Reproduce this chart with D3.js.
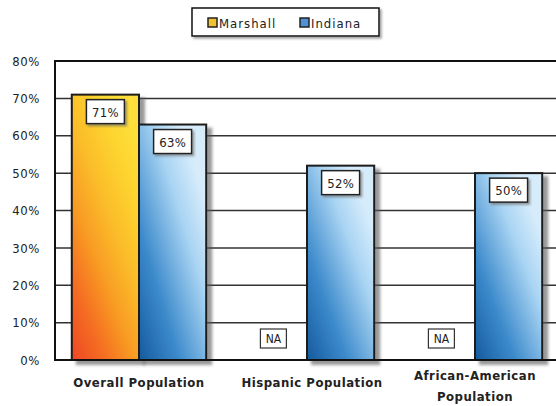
<!DOCTYPE html>
<html>
<head>
<meta charset="utf-8">
<script src="https://cdn.jsdelivr.net/npm/d3@7"></script>
<style>
  html, body { margin: 0; padding: 0; background: #fff; }
  svg { display: block; }
  text { font-family: "DejaVu Sans Condensed", "Liberation Sans Narrow", "DejaVu Sans", sans-serif; fill: #222; }
</style>
</head>
<body>
<svg id="chart" width="556" height="406"></svg>
<script>
// Share of population, by group, for Marshall County and Indiana
const categories = ["Overall Population", "Hispanic Population", "African-American Population"];
const categoryLines = [["Overall Population"], ["Hispanic Population"], ["African-American", "Population"]];
const seriesNames = ["Marshall", "Indiana"];
const marshallValues = [71, null, null];   // null = not available
const indianaValues = [63, 52, 50];
const yTickValues = [0, 10, 20, 30, 40, 50, 60, 70, 80];
const naLabel = "NA";

const svg = d3.select("#chart");
const plot = { left: 55, right: 559, top: 61, bottom: 360 };

const x0 = d3.scaleBand().domain(categories).range([plot.left, plot.right]).padding(0);
const x1 = d3.scaleBand().domain(seriesNames).range([0, x0.bandwidth()])
  .paddingInner(0).paddingOuter(0.25);
const y = d3.scaleLinear().domain([0, 80]).range([plot.bottom, plot.top]);

const defs = svg.append("defs");

// Bar fills
const gMarshall = defs.append("linearGradient").attr("id", "gradMarshall")
  .attr("x1", 0.05).attr("y1", 1).attr("x2", 0.7).attr("y2", 0);
gMarshall.append("stop").attr("offset", "0%").attr("stop-color", "#ef4a26");
gMarshall.append("stop").attr("offset", "20%").attr("stop-color", "#f46d22");
gMarshall.append("stop").attr("offset", "40%").attr("stop-color", "#f89a24");
gMarshall.append("stop").attr("offset", "62%").attr("stop-color", "#fbbd2a");
gMarshall.append("stop").attr("offset", "85%").attr("stop-color", "#fdd52f");
gMarshall.append("stop").attr("offset", "100%").attr("stop-color", "#fede3a");

const gIndiana = defs.append("linearGradient").attr("id", "gradIndiana")
  .attr("x1", 0).attr("y1", 1).attr("x2", 0.8).attr("y2", 0.15);
gIndiana.append("stop").attr("offset", "0%").attr("stop-color", "#155a9e");
gIndiana.append("stop").attr("offset", "35%").attr("stop-color", "#3c8acb");
gIndiana.append("stop").attr("offset", "75%").attr("stop-color", "#a9d4f3");
gIndiana.append("stop").attr("offset", "100%").attr("stop-color", "#d6ecfb");

const shadow = defs.append("filter").attr("id", "shadow")
  .attr("x", "-20%").attr("y", "-20%").attr("width", "150%").attr("height", "140%");
shadow.append("feDropShadow").attr("dx", 5).attr("dy", 4).attr("stdDeviation", 1.8)
  .attr("flood-color", "#555").attr("flood-opacity", 0.6);

const smallShadow = defs.append("filter").attr("id", "smallShadow")
  .attr("x", "-20%").attr("y", "-20%").attr("width", "150%").attr("height", "160%");
smallShadow.append("feDropShadow").attr("dx", 2).attr("dy", 2).attr("stdDeviation", 1)
  .attr("flood-color", "#666").attr("flood-opacity", 0.6);

const fills = { Marshall: "url(#gradMarshall)", Indiana: "url(#gradIndiana)" };

// Plot background and gridlines
svg.append("rect")
  .attr("x", plot.left).attr("y", plot.top)
  .attr("width", plot.right - plot.left).attr("height", plot.bottom - plot.top)
  .attr("fill", "#fff");

svg.append("g").selectAll("line")
  .data(yTickValues.filter(v => v > 0 && v < 80))
  .join("line")
  .attr("x1", plot.left).attr("x2", plot.right)
  .attr("y1", d => y(d)).attr("y2", d => y(d))
  .attr("stroke", "#333").attr("stroke-width", 1.5);

// Y axis labels
const yAxis = d3.axisLeft(y).tickValues(yTickValues).tickFormat(d => d + "%").tickSize(0).tickPadding(15);
const yAxisG = svg.append("g").attr("transform", `translate(${plot.left},0)`).call(yAxis);
yAxisG.select(".domain").remove();
yAxisG.selectAll("text")
  .style("font-family", '"DejaVu Sans Condensed", sans-serif')
  .style("font-size", "13px").style("letter-spacing", "0.6px").attr("fill", "#222");

// Bars
const rows = categories.map((c, i) => ({
  category: c,
  values: [
    { series: "Marshall", value: marshallValues[i] },
    { series: "Indiana", value: indianaValues[i] }
  ]
}));

const groups = svg.append("g").selectAll("g")
  .data(rows).join("g")
  .attr("transform", d => `translate(${x0(d.category)},0)`);

groups.selectAll("rect.bar")
  .data(d => d.values.filter(v => v.value !== null))
  .join("rect")
  .attr("class", "bar")
  .attr("x", d => x1(d.series))
  .attr("y", d => y(d.value))
  .attr("width", x1.bandwidth())
  .attr("height", d => y(0) - y(d.value))
  .attr("fill", d => fills[d.series])
  .attr("stroke", "#1c1c1c").attr("stroke-width", 2)
  .attr("filter", "url(#shadow)");

// Value labels in boxes at the top of each bar
const valueLabels = groups.selectAll("g.val")
  .data(d => d.values.filter(v => v.value !== null))
  .join("g").attr("class", "val")
  .attr("transform", d => `translate(${x1(d.series) + x1.bandwidth() / 2},${y(d.value) + 5})`);
valueLabels.append("rect")
  .attr("x", -19).attr("y", 0).attr("width", 38).attr("height", 24)
  .attr("fill", "#fff").attr("stroke", "#222").attr("stroke-width", 1.5)
  .attr("filter", "url(#smallShadow)");
valueLabels.append("text")
  .attr("x", 0).attr("y", 17).attr("text-anchor", "middle")
  .style("font-size", "13px").style("letter-spacing", "0.3px")
  .text(d => d.value + "%");

// "NA" markers where a value is not available
const naLabels = groups.selectAll("g.na")
  .data(d => d.values.filter(v => v.value === null))
  .join("g").attr("class", "na")
  .attr("transform", d => `translate(${x1(d.series) + x1.bandwidth() / 2},${y(0) - 31})`);
naLabels.append("rect")
  .attr("x", -13).attr("y", 0).attr("width", 26).attr("height", 19)
  .attr("fill", "#fff").attr("stroke", "#333").attr("stroke-width", 1.2);
naLabels.append("text")
  .attr("x", 0).attr("y", 14).attr("text-anchor", "middle")
  .style("font-size", "12px")
  .text(naLabel);

// Plot frame
svg.append("rect")
  .attr("x", plot.left).attr("y", plot.top)
  .attr("width", plot.right - plot.left).attr("height", plot.bottom - plot.top)
  .attr("fill", "none").attr("stroke", "#111").attr("stroke-width", 2);

// Category labels
const catLabels = svg.append("g").selectAll("text")
  .data(categories).join("text")
  .attr("text-anchor", "middle")
  .attr("x", d => x0(d) + x0.bandwidth() / 2 + (d === "Hispanic Population" ? 5 : 0))
  .attr("y", (d, i) => categoryLines[i].length > 1 ? 380 : 387)
  .style("font-size", "13px").style("font-weight", "bold").style("letter-spacing", "0.5px")
  .attr("fill", "#222");
catLabels.each(function (d, i) {
  const t = d3.select(this);
  categoryLines[i].forEach((line, j) => {
    t.append("tspan").attr("x", t.attr("x")).attr("dy", j === 0 ? 0 : 21).text(line);
  });
});

// Legend
const legend = svg.append("g").attr("transform", "translate(192,8)");
legend.append("rect")
  .attr("width", 187).attr("height", 28)
  .attr("fill", "#fff").attr("stroke", "#111").attr("stroke-width", 1.5)
  .attr("filter", "url(#smallShadow)");
const legendItems = [
  { name: seriesNames[0], x: 16, color: "#f2c22e" },
  { name: seriesNames[1], x: 108, color: "#4f93d2" }
];
const li = legend.selectAll("g.item").data(legendItems).join("g")
  .attr("class", "item").attr("transform", d => `translate(${d.x},0)`);
li.append("rect")
  .attr("x", 0).attr("y", 10).attr("width", 9).attr("height", 9)
  .attr("fill", d => d.color).attr("stroke", "#222").attr("stroke-width", 1.5);
li.append("text")
  .attr("x", 11).attr("y", 19.5)
  .style("font-size", "13px").style("letter-spacing", "1px")
  .text(d => d.name);
</script>
</body>
</html>
